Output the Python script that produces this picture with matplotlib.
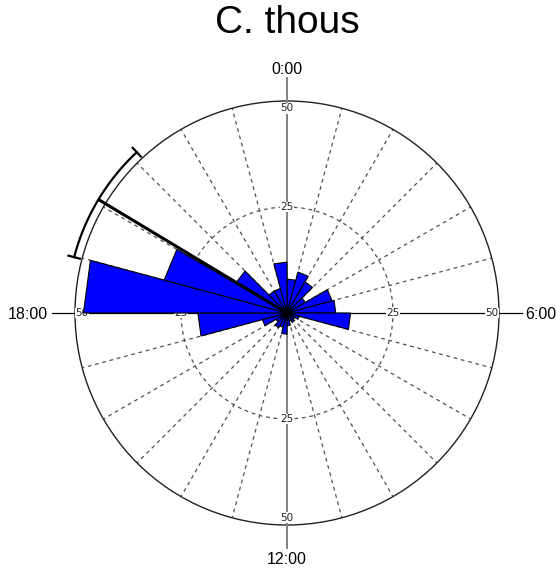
import numpy as np
import matplotlib
matplotlib.use("Agg")
import matplotlib.pyplot as plt
from matplotlib.patches import Polygon, Circle

# Hourly activity counts, one bin per hour starting at 0:00
hour_bins = list(range(24))
counts = [8, 10, 8.5, 5, 11, 11.5, 15, 3, 2, 2.5, 2, 3,
          5, 3.5, 4, 3, 6, 21, 48, 30, 14, 6, 6, 12]

# Mean activity time and its confidence interval (hours)
mean_hour = 20.07
ci_hours = [18.98, 21.13]

species = "C. thous"
hour_labels = ["0:00", "6:00", "12:00", "18:00"]
ring_values = [25, 50]
r_max = 50

W, H, DPI = 556, 574, 100
cx, cy = 287, 313            # pixel centre of the rose
k = 212 / r_max              # pixels per count unit

fig = plt.figure(figsize=(W / DPI, H / DPI), dpi=DPI)
ax = fig.add_axes([0, 0, 1, 1])
ax.set_xlim(-cx / k, (W - cx) / k)
ax.set_ylim((cy - H) / k, cy / k)
ax.set_aspect("equal")
ax.axis("off")


def pol(r, hour):
    th = np.deg2rad(hour * 15.0)
    return r * np.sin(th), r * np.cos(th)


grid_col = "#505050"
# dashed spokes every hour
for h in range(24):
    if h % 6 == 0:
        continue
    x, y = pol(r_max, h)
    ax.plot([0, x], [0, y], ls=(0, (3, 3)), color=grid_col, lw=0.9, zorder=1)
# dashed inner ring
ax.add_patch(Circle((0, 0), ring_values[0], fill=False, ls=(0, (3, 3)),
                    ec=grid_col, lw=0.9, zorder=1))
# outer ring
ax.add_patch(Circle((0, 0), r_max, fill=False, ec="#222222", lw=1.0, zorder=1))

# main axes
ext = 55.4
ax.plot([0, 0], [-ext, ext], color="#808080", lw=1.4, zorder=1)
ax.plot([-ext, ext], [0, 0], color="black", lw=0.9, zorder=1)

# ring value labels on the four axes
for v in ring_values:
    rr = v if v < r_max else 48.3
    for h in (0, 6, 12, 18):
        x, y = pol(rr, h)
        ax.text(x, y, str(v), ha="center", va="center", fontsize=7.5,
                family="DejaVu Sans", color="#222222", zorder=2,
                bbox=dict(fc="white", ec="none", pad=0.3))

# hour labels outside the circle
lab_r = 56.3
fs = 11.5
ax.text(0, lab_r, hour_labels[0], ha="center", va="baseline", fontsize=fs,
        family="Liberation Sans")
ax.text(lab_r, 0, hour_labels[1], ha="left", va="center_baseline", fontsize=fs,
        family="Liberation Sans")
ax.text(0, -lab_r, hour_labels[2], ha="center", va="top", fontsize=fs,
        family="Liberation Sans")
ax.text(-lab_r, 0, hour_labels[3], ha="right", va="center_baseline", fontsize=fs,
        family="Liberation Sans")

# rose wedges
for h, c in zip(hour_bins, counts):
    p1 = pol(c, h)
    p2 = pol(c, h + 1)
    ax.add_patch(Polygon([(0, 0), p1, p2], closed=True, fc="#0000FF",
                         ec="black", lw=0.8, zorder=3))

# mean direction and confidence arc
r_line = 51.9
mx, my = pol(r_line, mean_hour)
ax.plot([0, mx], [0, my], color="black", lw=2.2, zorder=4,
        solid_capstyle="butt")
arc_h = np.linspace(ci_hours[0], ci_hours[1], 100)
ax_, ay_ = pol(r_line, arc_h)
ax.plot(ax_, ay_, color="black", lw=1.6, zorder=4)
for h in ci_hours:
    x0, y0 = pol(r_line - 1.4, h)
    x1, y1 = pol(r_line + 1.4, h)
    ax.plot([x0, x1], [y0, y1], color="black", lw=1.6, zorder=4)

# title
ax.text(0, (cy - 23) / k, species, ha="center", va="center", fontsize=28,
        family="Liberation Sans")

fig.savefig("out.png", dpi=DPI)
